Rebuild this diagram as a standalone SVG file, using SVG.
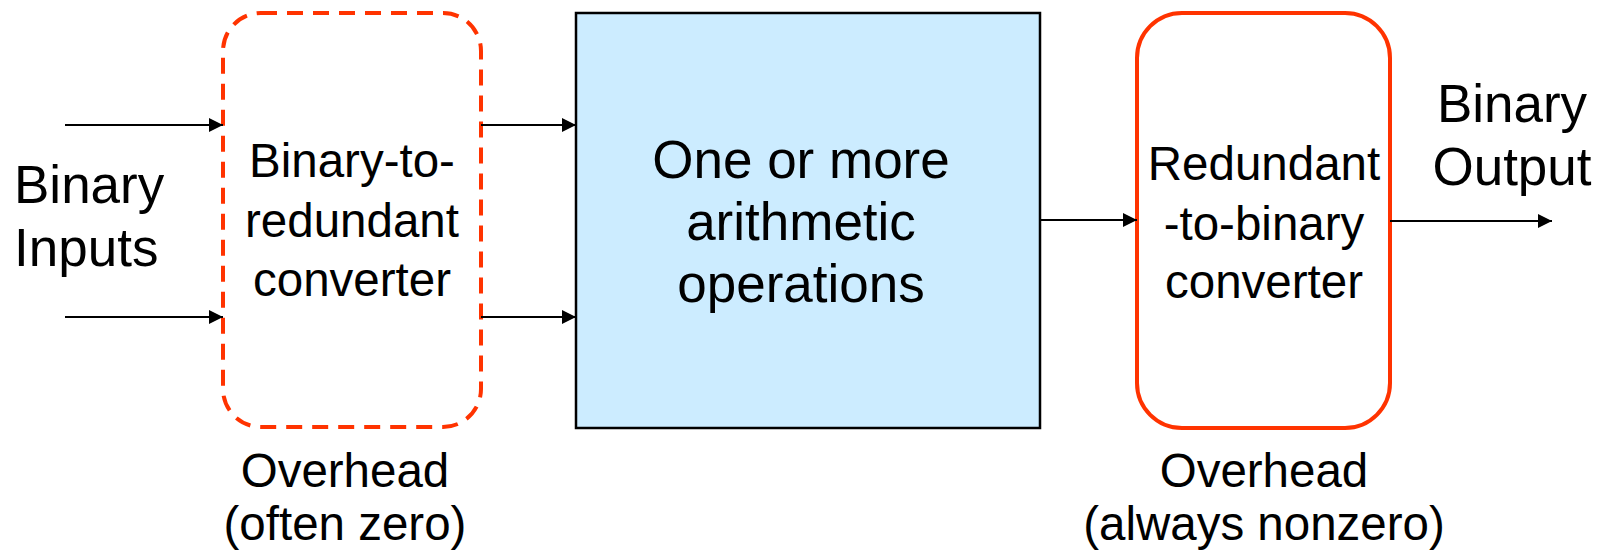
<svg xmlns="http://www.w3.org/2000/svg" width="1604" height="551" viewBox="0 0 1604 551">
<style>
text{font-family:"Liberation Sans",Arial,sans-serif;fill:#000;}
.t{font-size:47.5px;text-anchor:middle;}
.b{font-size:53px;}
.conn line{stroke:#000;stroke-width:2;marker-end:url(#ah);}
</style>
<defs>
<marker id="ah" markerWidth="14" markerHeight="14" refX="14" refY="7" orient="auto" markerUnits="userSpaceOnUse">
<path d="M0,0 L14,7 L0,14 Z" fill="#000"/>
</marker>
</defs>
<rect width="1604" height="551" fill="#fff"/>
<g id="conv-in">
<rect x="223" y="13" width="258" height="414" rx="38" ry="38" fill="none" stroke="#FF3300" stroke-width="4" stroke-dasharray="16 10"/>
<text class="t" x="352" y="177">Binary-to-</text>
<text class="t" x="352" y="237">redundant</text>
<text class="t" x="352" y="296">converter</text>
</g>
<g id="arith">
<rect x="576" y="13" width="464" height="415" fill="#CCECFF" stroke="#000" stroke-width="2.5"/>
<text class="t b" x="801" y="178">One or more</text>
<text class="t b" x="801" y="240">arithmetic</text>
<text class="t b" x="801" y="302">operations</text>
</g>
<g id="conv-out">
<rect x="1137" y="13" width="253" height="415" rx="45" ry="45" fill="none" stroke="#FF3300" stroke-width="4"/>
<text class="t" x="1264" y="180">Redundant</text>
<text class="t" x="1264" y="240">-to-binary</text>
<text class="t" x="1264" y="298">converter</text>
</g>
<g id="label-inputs">
<text class="b" x="14" y="203">Binary</text>
<text class="b" x="14" y="266">Inputs</text>
</g>
<g id="label-output">
<text class="t b" x="1512" y="122">Binary</text>
<text class="t b" x="1512" y="185">Output</text>
</g>
<g id="label-overhead-left">
<text class="t" x="345" y="487">Overhead</text>
<text class="t" x="345" y="540">(often zero)</text>
</g>
<g id="label-overhead-right">
<text class="t" x="1264" y="487">Overhead</text>
<text class="t" x="1264" y="540">(always nonzero)</text>
</g>
<g class="conn" id="connectors">
<line x1="65" y1="125" x2="223" y2="125"/>
<line x1="65" y1="317" x2="223" y2="317"/>
<line x1="481" y1="125" x2="576" y2="125"/>
<line x1="481" y1="317" x2="576" y2="317"/>
<line x1="1040" y1="220" x2="1137" y2="220"/>
<line x1="1390" y1="221" x2="1552" y2="221"/>
</g>
</svg>
